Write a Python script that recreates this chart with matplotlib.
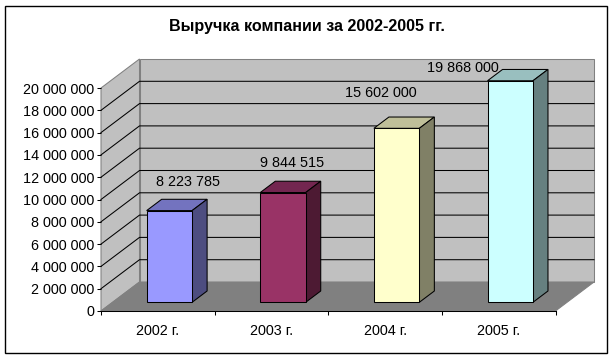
import matplotlib
matplotlib.use('Agg')
from matplotlib import pyplot as plt
from matplotlib.patches import Polygon, Rectangle
from matplotlib.ticker import FuncFormatter

categories = ['2002 г.', '2003 г.', '2004 г.', '2005 г.']
revenue = [8223785, 9844515, 15602000, 19868000]
value_labels = ['8 223 785', '9 844 515', '15 602 000', '19 868 000']
title = 'Выручка компании за 2002-2005 гг.'

front_colors = ['#9999FF', '#993366', '#FFFFCC', '#CCFFFF']
top_colors = ['#7373BF', '#732650', '#BFBF99', '#99BFBF']
side_colors = ['#4D4D80', '#4D1A33', '#808066', '#668080']

W, H = 613, 357
plt.rcParams['font.family'] = ['Liberation Sans', 'DejaVu Sans']
plt.rcParams['font.size'] = 10.4

fig = plt.figure(figsize=(W / 100, H / 100), dpi=100)
fig.add_artist(Rectangle((5.5 / W, 1 - 352.5 / H), 601 / W, 347 / H, fc='white', ec='black', lw=1,
                         transform=fig.transFigure, zorder=-1))

# front plane of the 3d box, in pixels
left, right, top, bottom = 101, 555.5, 88, 311
ax = fig.add_axes([left / W, 1 - bottom / H, (right - left) / W, (bottom - top) / H])
ax.set_xlim(0, 4)
ax.set_ylim(0, 20000000)
ax.patch.set_visible(False)
for s in ax.spines.values():
    s.set_visible(False)

depth_x = 38.5 / (right - left) * 4
depth_y = 29 / (bottom - top) * 20000000


def proj(x, y, d):
    # oblique projection, d=0 front, d=1 back wall
    return (x + d * depth_x, y + d * depth_y)


def poly(points, fc, ec, lw=0.75, z=1):
    ax.add_patch(Polygon(points, closed=True, fc=fc, ec=ec, lw=lw, zorder=z, clip_on=False))


# walls and floor
poly([proj(0, 0, 1), proj(4, 0, 1), proj(4, 20000000, 1), proj(0, 20000000, 1)], '#C0C0C0', '#808080', z=1)
poly([proj(0, 0, 0), proj(0, 0, 1), proj(0, 20000000, 1), proj(0, 20000000, 0)], '#C0C0C0', '#808080', z=1)
poly([proj(0, 0, 0), proj(4, 0, 0), proj(4, 0, 1), proj(0, 0, 1)], '#808080', '#808080', z=1)

# grid lines on the side and back walls
for v in range(2000000, 20000000, 2000000):
    p0, p1, p2 = proj(0, v, 0), proj(0, v, 1), proj(4, v, 1)
    ax.plot([p0[0], p1[0], p2[0]], [p0[1], p1[1], p2[1]], color='black', lw=0.75, zorder=2, clip_on=False)

# bars
d0, d1 = 0.30, 0.69
bar_w = 0.40
for i, v in enumerate(revenue):
    x0 = i + 0.5 - bar_w / 2
    x1 = i + 0.5 + bar_w / 2
    poly([proj(x0, 0, d0), proj(x1, 0, d0), proj(x1, v, d0), proj(x0, v, d0)], front_colors[i], 'black', z=5)
    poly([proj(x0, v, d0), proj(x1, v, d0), proj(x1, v, d1), proj(x0, v, d1)], top_colors[i], 'black', z=4)
    poly([proj(x1, 0, d0), proj(x1, 0, d1), proj(x1, v, d1), proj(x1, v, d0)], side_colors[i], 'black', z=4)

# hand placed labels, offset from the bar top in pixels
label_offsets = [(18.5, 29), (9, 30), (-16, 35), (-47, 13)]
for i, v in enumerate(revenue):
    ax.annotate(value_labels[i], xy=proj(i + 0.5, v, d0), xytext=(label_offsets[i][0] * 0.72, label_offsets[i][1] * 0.72),
                textcoords='offset points', ha='center', va='center', color='black', zorder=6, annotation_clip=False)

# axes lines
ax.spines['bottom'].set_visible(True)
ax.spines['bottom'].set_zorder(3)
ax.spines['bottom'].set_linewidth(0.75)

ax.set_yticks(range(0, 20000001, 2000000))
ax.yaxis.set_major_formatter(FuncFormatter(lambda v, pos: f'{int(v):,}'.replace(',', ' ')))
ax.set_xticks(range(5))
ax.set_xticklabels([])
ax.set_xticks([i + 0.5 for i in range(4)], categories, minor=True)
ax.tick_params(axis='x', which='major', length=3, width=0.75, direction='out', color='black')
ax.tick_params(axis='x', which='minor', length=0, pad=9.5)
ax.tick_params(axis='y', length=3, width=0.75, pad=2, color='black')

fig.text(306.5 / W, 1 - 27 / H, title, ha='center', va='center', fontweight='bold', fontsize=11.6)

fig.savefig('out.png', dpi=100)
